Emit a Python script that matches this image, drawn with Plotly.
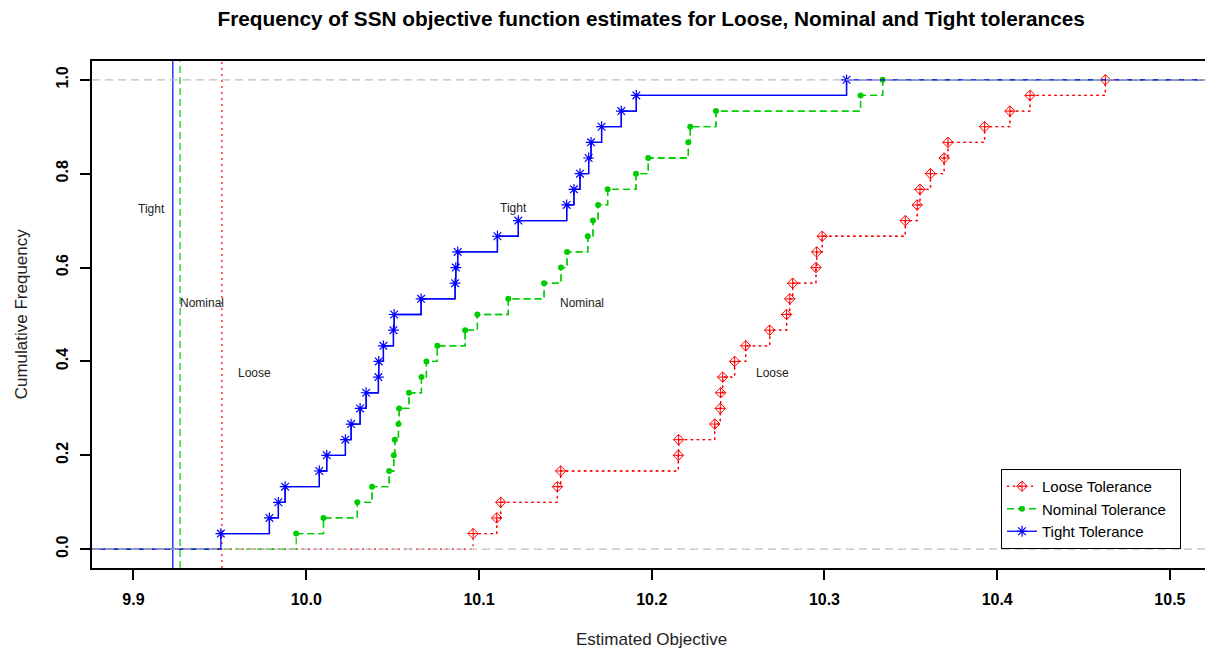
import plotly.graph_objects as go

# ---- data ----
tight = [9.9506, 9.9787, 9.9839, 9.9878, 10.0076, 10.0119, 10.0227, 10.0260, 10.0312, 10.0347,
         10.0418, 10.0420, 10.0447, 10.0505, 10.0509, 10.0665, 10.0862, 10.0866, 10.0877, 10.1107,
         10.1228, 10.1508, 10.1550, 10.1585, 10.1635, 10.1649, 10.1710, 10.1824, 10.1911, 10.3128]
nominal = [9.9942, 10.0100, 10.0296, 10.0381, 10.0480, 10.0507, 10.0513, 10.0534, 10.0538, 10.0595,
           10.0667, 10.0696, 10.0759, 10.0920, 10.0991, 10.1170, 10.1377, 10.1475, 10.1510, 10.1630,
           10.1660, 10.1690, 10.1745, 10.1909, 10.1980, 10.2212, 10.2223, 10.2372, 10.3209, 10.3337]
loose = [10.0966, 10.1103, 10.1126, 10.1454, 10.1473, 10.2154, 10.2156, 10.2365, 10.2397, 10.2399,
         10.2411, 10.2480, 10.2544, 10.2683, 10.2781, 10.2799, 10.2816, 10.2951, 10.2955, 10.2987,
         10.3468, 10.3537, 10.3553, 10.3614, 10.3693, 10.3715, 10.3927, 10.4074, 10.4190, 10.4626]

ref_lines = {"Tight": 9.9228, "Nominal": 9.9270, "Loose": 9.9512}

x_ticks = [9.9, 10.0, 10.1, 10.2, 10.3, 10.4, 10.5]
x_tick_labels = ["9.9", "10.0", "10.1", "10.2", "10.3", "10.4", "10.5"]
y_ticks = [0.0, 0.2, 0.4, 0.6, 0.8, 1.0]
y_tick_labels = ["0.0", "0.2", "0.4", "0.6", "0.8", "1.0"]

XRANGE = [9.876, 10.5203]
YRANGE = [-0.04, 1.04]

FONT = "Liberation Sans, Arial, Helvetica, sans-serif"

series = [
    dict(name="Loose Tolerance", data=loose, color="#FF0000", dash="2px,4px",
         marker=dict(symbol="diamond-cross-open", size=8, color="#FF0000",
                     line=dict(color="#FF0000", width=1)), width=1.3),
    dict(name="Nominal Tolerance", data=nominal, color="#00CD00", dash="7px,4px",
         marker=dict(symbol="circle", size=6, color="#00CD00",
                     line=dict(color="#00CD00", width=0)), width=1.3),
    dict(name="Tight Tolerance", data=tight, color="#0000FF", dash="solid",
         marker=dict(symbol="asterisk-open", size=9, color="#0000FF",
                     line=dict(color="#0000FF", width=1.2)), width=1.3),
]

fig = go.Figure()
for s in series:
    vals = sorted(s["data"])
    n = len(vals)
    ys = [(i + 1) / n for i in range(n)]
    # full step path extending to the plot edges
    fig.add_trace(go.Scatter(
        x=[XRANGE[0]] + vals + [XRANGE[1]], y=[0.0] + ys + [1.0],
        mode="lines", line=dict(color=s["color"], dash=s["dash"], width=s["width"], shape="hv"),
        showlegend=False, hoverinfo="skip"))
    fig.add_trace(go.Scatter(
        x=vals, y=ys, mode="lines+markers", name=s["name"] + "&nbsp;&nbsp;",
        line=dict(color=s["color"], dash=s["dash"], width=s["width"], shape="hv"),
        marker=s["marker"]))

shapes = []
ref_styles = {"Tight": ("#0000FF", "solid"), "Nominal": ("#00CD00", "7px,4px"),
              "Loose": ("#FF0000", "2px,4px")}
for k, v in ref_lines.items():
    c, d = ref_styles[k]
    shapes.append(dict(type="line", xref="x", yref="paper", x0=v, x1=v, y0=0, y1=1,
                       line=dict(color=c, dash=d, width=1.2), layer="below"))
for yv in [0.0, 1.0]:
    shapes.append(dict(type="line", xref="paper", yref="y", x0=0, x1=1, y0=yv, y1=yv,
                       line=dict(color="#BEBEBE", dash="8px,5px", width=1.2), layer="above"))

labels = [("Tight", 9.9102, 0.725), ("Nominal", 9.9398, 0.525), ("Loose", 9.9700, 0.375),
          ("Tight", 10.1199, 0.727), ("Nominal", 10.1598, 0.525), ("Loose", 10.2698, 0.375)]
annotations = [dict(x=x, y=y, xref="x", yref="y", text=t, showarrow=False,
                    font=dict(family=FONT, size=12, color="#222222"))
               for t, x, y in labels]
annotations.append(dict(x=0.5024, y=-0.1413, xref="paper", yref="paper", text="Estimated Objective",
                        showarrow=False, font=dict(family=FONT, size=17, color="#222222"),
                        xanchor="center", yanchor="middle"))
annotations.append(dict(x=-0.0626, y=0.501, xref="paper", yref="paper", text="Cumulative Frequency",
                        showarrow=False, textangle=-90, font=dict(family=FONT, size=17, color="#222222"),
                        xanchor="center", yanchor="middle"))

fig.update_layout(
    width=1205, height=649,
    margin=dict(l=92, r=0, t=61, b=81, autoexpand=False),
    paper_bgcolor="white", plot_bgcolor="white",
    font=dict(family=FONT, color="black"),
    title=dict(text="<b>Frequency of SSN objective function estimates for Loose, Nominal and Tight tolerances</b>",
               x=0.5024, xref="paper", y=1 - 19 / 649, yref="container", xanchor="center", yanchor="middle",
               font=dict(family=FONT, size=20.8, color="black")),
    xaxis=dict(range=XRANGE, tickvals=x_ticks, ticktext=x_tick_labels, showgrid=False, zeroline=False,
               showline=True, linecolor="black", linewidth=2, mirror=True, automargin=False,
               ticks="outside", ticklen=10, tickwidth=1.5, tickcolor="black",
               tickfont=dict(family=FONT, size=16, color="black", weight="bold"), ticklabelstandoff=6),
    yaxis=dict(range=YRANGE, tickvals=y_ticks, ticktext=y_tick_labels, showgrid=False, zeroline=False,
               showline=True, linecolor="black", linewidth=2, mirror=False, automargin=False,
               ticks="outside", ticklen=10, tickwidth=1.5, tickcolor="black", tickangle=-90,
               tickfont=dict(family=FONT, size=16, color="black", weight="bold"), ticklabelstandoff=6),
    legend=dict(x=0.8167, y=0.1953, xanchor="left", yanchor="top", bgcolor="white",
                bordercolor="black", borderwidth=1, font=dict(family=FONT, size=15, color="black"),
                tracegroupgap=0, itemwidth=30),
    shapes=shapes, annotations=annotations, showlegend=True,
)

fig.write_html("out.html", config={"displayModeBar": False},
               post_script="document.body.style.margin='0';document.body.style.overflow='hidden';")
